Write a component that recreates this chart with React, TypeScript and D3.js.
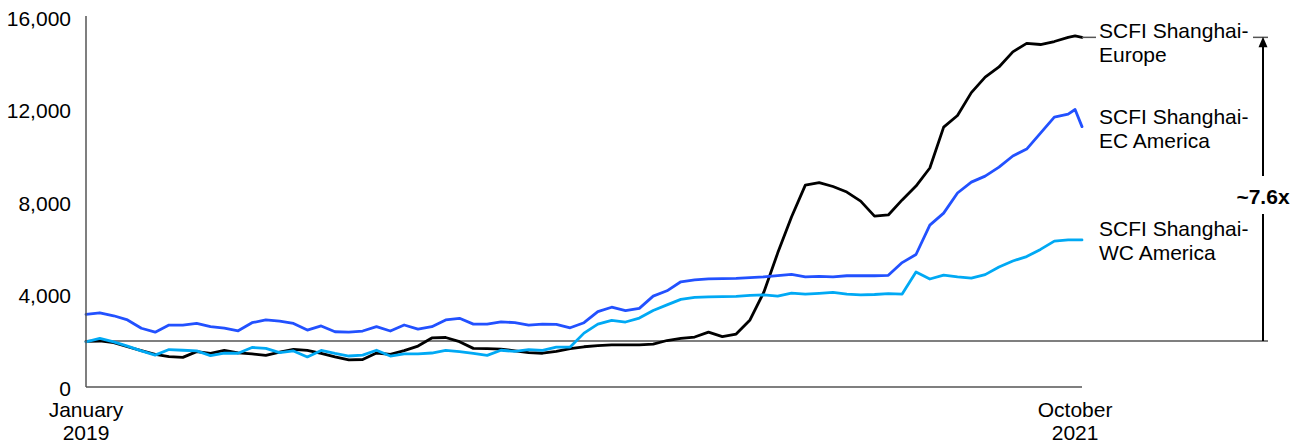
import React from "react";
import * as d3 from "d3";

// ---- Data ----
const startDate = new Date(2019, 0, 4);
const biweeklyCount = 72;
const dates: Date[] = [
  ...d3.range(biweeklyCount).map((i) => d3.timeDay.offset(startDate, 14 * i)),
  new Date(2021, 9, 1),
  new Date(2021, 9, 8),
];

const europe = [
  1970, 1990, 1920, 1740, 1570, 1410, 1310, 1280, 1530, 1450,
  1580, 1480, 1430, 1370, 1510, 1630, 1580, 1450, 1300, 1170,
  1190, 1470, 1410, 1570, 1770, 2120, 2140, 1960, 1670, 1660,
  1640, 1560, 1490, 1460, 1540, 1660, 1740, 1790, 1820, 1820,
  1820, 1850, 2010, 2100, 2160, 2370, 2180, 2290, 2900, 4100,
  5790, 7350, 8730, 8840, 8670, 8430, 8040, 7390, 7440, 8090,
  8690, 9470, 11240, 11740, 12730, 13400, 13840, 14490, 14860, 14810,
  14940, 15120, 15180, 15120,
];

const ecAmerica = [
  3140, 3210, 3080, 2900, 2540, 2370, 2680, 2680, 2750, 2610,
  2550, 2430, 2780, 2900, 2850, 2750, 2460, 2640, 2390, 2370,
  2420, 2610, 2420, 2680, 2500, 2610, 2900, 2970, 2720, 2720,
  2820, 2780, 2680, 2720, 2710, 2560, 2780, 3260, 3450, 3300,
  3400, 3930, 4160, 4550, 4630, 4680, 4690, 4700, 4730, 4760,
  4820, 4870, 4760, 4780, 4760, 4810, 4810, 4810, 4830, 5380,
  5730, 7000, 7520, 8390, 8860, 9120, 9510, 9990, 10290, 10980,
  11670, 11800, 12000, 11260,
];

const wcAmerica = [
  1950, 2100, 1950, 1770, 1560, 1380, 1620, 1590, 1560, 1360,
  1460, 1460, 1710, 1670, 1490, 1560, 1300, 1580, 1450, 1340,
  1380, 1590, 1340, 1430, 1430, 1470, 1580, 1530, 1450, 1370,
  1590, 1540, 1620, 1580, 1720, 1730, 2330, 2720, 2880, 2810,
  2980, 3310, 3550, 3790, 3880, 3900, 3910, 3920, 3960, 3980,
  3930, 4060, 4020, 4050, 4090, 4020, 3980, 4000, 4040, 4020,
  4970, 4670, 4840, 4760, 4710, 4860, 5190, 5450, 5640, 5950,
  6310, 6360, 6360, 6360,
];

const seriesNames = ["europe", "ecAmerica", "wcAmerica"];
const seriesLabels = [
  ["SCFI Shanghai-", "Europe"],
  ["SCFI Shanghai-", "EC America"],
  ["SCFI Shanghai-", "WC America"],
];
const seriesColors = ["#000000", "#2251FF", "#00A9F4"];
const seriesValues = [europe, ecAmerica, wcAmerica];

const yTicks = [0, 4000, 8000, 12000, 16000];
const xTickDates = [new Date(2019, 0, 4), new Date(2021, 9, 1)];
const xTickLabels = [
  ["January", "2019"],
  ["October", "2021"],
];
const baselineValue = 1990;
const multipleLabel = "~7.6x";

// ---- Layout ----
const W = 1304;
const H = 446;
const FONT = "Arial, 'Liberation Sans', Helvetica, sans-serif";
const FS = 21;

export default function App() {
  const x = d3
    .scaleTime()
    .domain([dates[0], dates[dates.length - 1]])
    .range([86, 1082]);
  const y = d3.scaleLinear().domain([0, 16000]).range([387, 17]);

  const line = d3
    .line<number>()
    .x((_, i) => x(dates[i]))
    .y((d) => y(d));

  const endX = x(dates[dates.length - 1]);
  const euroEnd = europe[europe.length - 1];
  const yTop = y(euroEnd);
  const yBase = y(baselineValue);
  const arrowX = 1263;
  const labelX = 1099;
  const labelBaselines = [
    [38, 62],
    [124, 147.5],
    [235.5, 260],
  ];
  const multY = 204;

  return (
    <div style={{ position: "fixed", left: 0, top: 0 }}>
      <svg width={W} height={H} style={{ display: "block", fontFamily: FONT }}>
        <rect width={W} height={H} fill="#fff" />
        {/* y tick labels */}
        {yTicks.map((t) => (
          <text
            key={t}
            x={71}
            y={y(t) + 8.5}
            fontSize={FS}
            textAnchor="end"
            fill="#000"
          >
            {d3.format(",")(t)}
          </text>
        ))}
        {/* x tick labels */}
        {xTickDates.map((d, i) => (
          <text
            key={i}
            x={x(d)}
            y={417}
            fontSize={FS}
            textAnchor="middle"
            fill="#000"
          >
            <tspan x={x(d)} y={417}>
              {xTickLabels[i][0]}
            </tspan>
            <tspan x={x(d)} y={440}>
              {xTickLabels[i][1]}
            </tspan>
          </text>
        ))}
        {/* baseline reference line */}
        <line
          x1={86}
          x2={1268}
          y1={yBase}
          y2={yBase}
          stroke="#555"
          strokeWidth={1.5}
        />
        {/* series */}
        {seriesValues.map((vals, i) => (
          <path
            key={seriesNames[i]}
            d={line(vals) || ""}
            fill="none"
            stroke={seriesColors[i]}
            strokeWidth={2.8}
            strokeLinejoin="round"
            strokeLinecap="round"
          />
        ))}
        {/* axes */}
        <line x1={86} x2={86} y1={y(16000) - 1} y2={y(0)} stroke="#555" strokeWidth={1.5} />
        <line x1={86} x2={endX} y1={y(0)} y2={y(0)} stroke="#555" strokeWidth={1.5} />
        {/* europe connector */}
        <line x1={endX} x2={1096} y1={yTop} y2={yTop} stroke="#555" strokeWidth={1.5} />
        <line x1={1253} x2={1268} y1={yTop} y2={yTop} stroke="#555" strokeWidth={1.5} />
        {/* series labels */}
        {seriesLabels.map((lbl, i) => (
          <text key={i} fontSize={FS} fill="#000">
            <tspan x={labelX} y={labelBaselines[i][0]}>
              {lbl[0]}
            </tspan>
            <tspan x={labelX} y={labelBaselines[i][1]}>
              {lbl[1]}
            </tspan>
          </text>
        ))}
        {/* arrow */}
        <line x1={arrowX} x2={arrowX} y1={yTop + 8} y2={multY - 28} stroke="#000" strokeWidth={2} />
        <line x1={arrowX} x2={arrowX} y1={multY + 10} y2={yBase} stroke="#000" strokeWidth={2} />
        <path
          d={`M${arrowX},${yTop - 0.5} L${arrowX - 4.5},${yTop + 10} L${arrowX + 4.5},${yTop + 10} Z`}
          fill="#000"
        />
        <text
          x={arrowX}
          y={multY}
          fontSize={FS}
          fontWeight="bold"
          textAnchor="middle"
          fill="#000"
        >
          {multipleLabel}
        </text>
      </svg>
    </div>
  );
}
